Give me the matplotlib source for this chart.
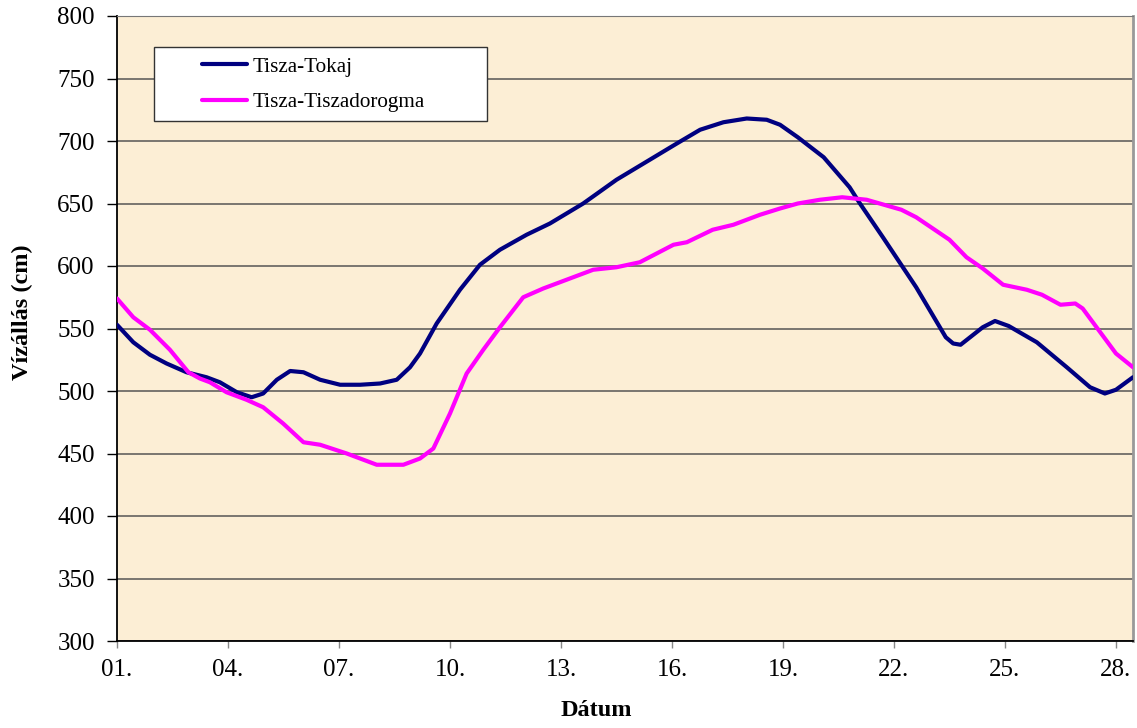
import matplotlib.pyplot as plt
from matplotlib.patches import Rectangle

# napok (x) és vízállás (cm) értékek
tokaj_nap = [1.0, 1.44, 1.89, 2.34, 2.88, 3.42, 3.78, 4.24, 4.64, 4.95, 5.32, 5.68, 6.04,
             6.49, 7.03, 7.57, 8.11, 8.56, 8.92, 9.19, 9.64, 10.27, 10.81, 11.35, 12.07,
             12.7, 13.6, 14.5, 15.4, 16.13, 16.76, 17.39, 18.02, 18.56, 18.92, 19.4,
             20.1, 20.8, 21.08, 21.7, 22.6, 23.4, 23.6, 23.8, 24.4, 24.73, 25.1, 25.86,
             26.67, 27.3, 27.7, 28.0, 28.46]
tokaj = [553, 539, 529, 522, 515, 511, 507, 499, 495, 498, 509, 516, 515,
         509, 505, 505, 506, 509, 519, 530, 554, 581, 601, 613, 625,
         634, 650, 669, 685, 698, 709, 715, 718, 717, 713, 703,
         687, 663, 650, 623, 583, 543, 538, 537, 551, 556, 552, 539,
         519, 503, 498, 501, 511]

dorogma_nap = [1.0, 1.44, 1.89, 2.43, 2.93, 3.24, 3.51, 3.96, 4.5, 4.95, 5.49, 6.04,
               6.49, 7.21, 8.02, 8.74, 9.19, 9.55, 10.0, 10.45, 10.9, 11.35, 11.98,
               12.52, 13.15, 13.87, 14.5, 15.13, 16.04, 16.4, 17.1, 17.66, 18.38, 18.92,
               19.4, 20.0, 20.6, 21.26, 22.2, 22.6, 23.5, 23.96, 24.4, 24.95, 25.59,
               26.0, 26.5, 26.9, 27.1, 27.6, 28.0, 28.46]
dorogma = [574, 559, 549, 533, 515, 510, 507, 499, 493, 487, 474, 459,
           457, 450, 441, 441, 446, 454, 482, 514, 533, 551, 575,
           582, 589, 597, 599, 603, 617, 619, 629, 633, 641, 646,
           650, 653, 655, 653, 645, 639, 621, 607, 598, 585, 581,
           577, 569, 570, 566, 546, 530, 519]

xtick_napok = [1, 4, 7, 10, 13, 16, 19, 22, 25, 28]
xtick_cimkek = ['01.', '04.', '07.', '10.', '13.', '16.', '19.', '22.', '25.', '28.']

plt.rcParams['font.family'] = ['Liberation Serif', 'DejaVu Serif']

fig = plt.figure(figsize=(11.37, 7.28), dpi=100)
ax = fig.add_axes([117 / 1137, 1 - 641 / 728, 1016 / 1137, 625 / 728])
ax.set_facecolor('#FCEED5')

ax.plot(tokaj_nap, tokaj, color='#000080', lw=3, label='Tisza-Tokaj',
        solid_capstyle='round', solid_joinstyle='round', zorder=3)
ax.plot(dorogma_nap, dorogma, color='#FF00FF', lw=3, label='Tisza-Tiszadorogma',
        solid_capstyle='round', solid_joinstyle='round', zorder=3)

ax.set_xlim(1, 28.46)
ax.set_ylim(300, 800)
ax.set_yticks(range(300, 801, 50))
ax.set_xticks(xtick_napok)
ax.set_xticklabels(xtick_cimkek)
ax.yaxis.grid(True, color='#555555', lw=1.1)
ax.set_axisbelow(True)

ax.tick_params(axis='y', direction='out', length=7, width=1, labelsize=18, pad=9)
ax.tick_params(axis='x', direction='out', length=5, width=1, color='#888888', labelsize=18, pad=8)

for s in ['left', 'bottom']:
    ax.spines[s].set_color('black')
    ax.spines[s].set_linewidth(1.3)
ax.spines['top'].set_color('#777777')
ax.spines['right'].set_color('#999999')
ax.spines['right'].set_linewidth(2)

ax.set_ylabel('Vízállás (cm)', fontsize=17.5, fontweight='bold')
ax.set_xlabel('Dátum', fontsize=17.5, fontweight='bold')
ax.yaxis.set_label_coords((33 - 117) / 1016, (641 - 312) / 625)
ax.xaxis.set_label_coords((596 - 117) / 1016, (641 - 700) / 625)

# jelmagyarázat keret
ax.add_patch(Rectangle((154 / 1137, 1 - 121 / 728), 333 / 1137, 74 / 728,
                       transform=fig.transFigure, facecolor='white',
                       edgecolor='#333333', lw=1, zorder=5, clip_on=False))
leg = ax.legend(loc='upper left', bbox_to_anchor=(202 / 1137, 1 - 57 / 728),
                bbox_transform=fig.transFigure, frameon=False, fontsize=15.2,
                handlelength=2.15, handletextpad=0.25, labelspacing=0.75,
                borderaxespad=0, borderpad=0)
leg.set_zorder(6)

fig.savefig('out.png', dpi=100)
